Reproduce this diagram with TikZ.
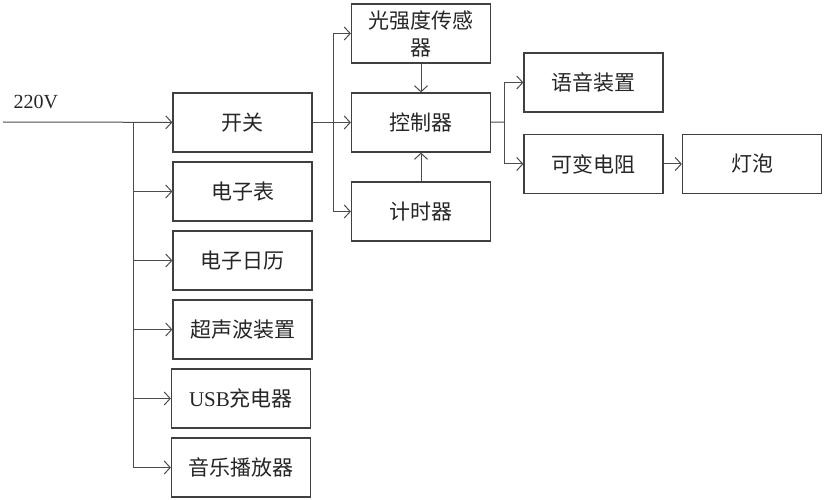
\documentclass[tikz,border=0pt]{standalone}
\usepackage{fontspec}
\setmainfont{Liberation Serif}
\newfontfamily\cjk{Noto Sans CJK SC}
\usetikzlibrary{arrows.meta}

\begin{document}
\begin{tikzpicture}[x=1pt,y=-1pt,>={Straight Barb[length=6pt,width=13pt]},
kuang/.style={rectangle,draw=black!75,line width=1.2pt,minimum width=139pt,minimum height=59pt,inner sep=0pt,
font=\cjk\fontsize{21}{27}\selectfont,text=black!85,align=center
}]

\useasboundingbox (0,0) rectangle (825,500);

\pgfmathsetmacro{\jiange}{69}

\node[anchor=west,font=\fontsize{20}{22}\selectfont,text=black!85](dianya) at (10,102){220V};
\coordinate(dianyuan) at (3,122);
\coordinate(fenzhi) at (133,122);

% left column
\node[kuang](kaiguan) at (242.5,122.5){开关};
\node[kuang](dianzibiao) at (242.5,122.5+\jiange){电子表};
\node[kuang](rili) at (242.5,122.5+2*\jiange){电子日历};
\node[kuang](chaoshengbo) at (242.5,122.5+3*\jiange){超声波装置};
\node[kuang](usb) at (241,122.5+4*\jiange){{\rmfamily USB}充电器};
\node[kuang](yinyue) at (241,122.5+5*\jiange){音乐播放器};

% middle column
\coordinate(zhong) at (333,122);
\node[kuang](guangqiang) at (421,33.5){光强度传感\\器};
\node[kuang](kongzhiqi) at (421,122.5){控制器};
\node[kuang](jishiqi) at (421,211.5){计时器};

% right
\coordinate(you) at (504,122);
\node[kuang](yuyin) at (593.5,82.5){语音装置};
\node[kuang](kebian) at (593.5,164){可变电阻};
\node[kuang](dengpao) at (752,164){灯泡};

\begin{scope}[->, line width=1pt, draw=black!70]
\draw (dianyuan)--(kaiguan);
\draw (fenzhi)|-(dianzibiao);
\draw (fenzhi)|-(rili);
\draw (fenzhi)|-(chaoshengbo);
\draw (fenzhi)|-(usb);
\draw (fenzhi)|-(yinyue);
\draw (kaiguan)--(kongzhiqi);
\draw (zhong)|-(guangqiang);
\draw (zhong)|-(jishiqi);
\draw (guangqiang)--(kongzhiqi);
\draw (jishiqi)--(kongzhiqi);
\draw[-] (kongzhiqi)--(you);
\draw (you)|-(yuyin);
\draw (you)|-(kebian);
\draw (kebian)--(dengpao);
\end{scope}

\end{tikzpicture}
\end{document}
